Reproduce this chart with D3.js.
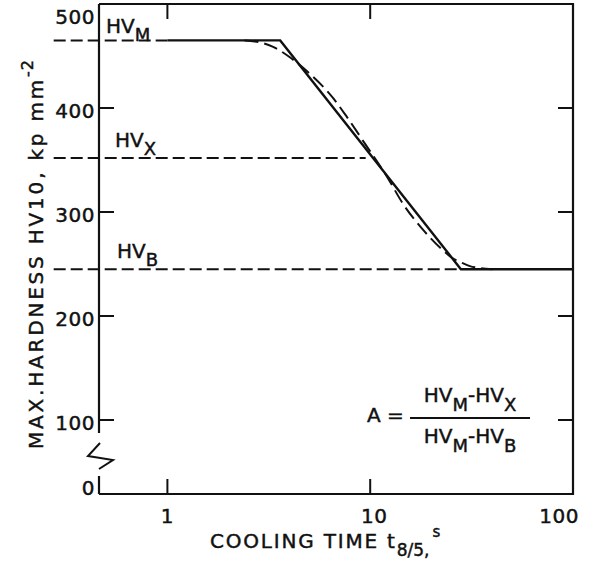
<!DOCTYPE html>
<html>
<head>
<meta charset="utf-8">
<script src="https://cdn.jsdelivr.net/npm/d3@7"></script>
<style>
    body { margin: 0; background: #fff; }
    svg text { font-family: "DejaVu Sans", sans-serif; fill: #111; stroke: #111; stroke-width: 0.45px; }
</style>
</head>
<body>
<div id="chart"></div>
<script>
// Hardness levels (HV10, kp/mm2) and where their dashed guide stops (t8/5, s)
const levelNames = ['M', 'X', 'B'];
const levelValues = [465, 352, 245];
const levelEnds = [1, 9.5, 28];

// Idealised (solid) hardness curve
const solidTimes = [1, 3.6, 28, 100];
const solidHardness = [465, 465, 245, 245];

// Measured (dashed) curve
const fitTimes = [2.4, 2.7, 3.0, 3.3, 3.6, 4.0, 4.9, 6.6, 7.7, 9.4, 12.1, 14.5, 18.2, 22.6, 25.3, 28.4, 31, 35, 40];
const fitHardness = [465, 464, 462, 459, 455, 449, 435, 409, 391, 366, 334, 308, 283, 264, 256, 251, 248, 246, 245];

const xTicks = [1, 10, 100];
const yTicks = [0, 100, 200, 300, 400, 500];

const width = 589, height = 566;
const svg = d3.select('#chart').append('svg')
    .attr('width', width)
    .attr('height', height);

// log time axis, broken hardness axis (0 squeezed under 100)
const x = d3.scaleLog().domain([0.46, 100]).range([99, 573]);
const y = d3.scaleLinear().domain([0, 100, 500]).range([494, 420, 4]);

const x0 = x.range()[0], x1 = x.range()[1];
const yTop = y(500), yBot = y(0);
const ink = '#111';

// frame: top, right and bottom sides
svg.append('path')
    .attr('d', `M${x0},${yTop}H${x1}V${yBot}H${x0}`)
    .attr('fill', 'none')
    .attr('stroke', ink)
    .attr('stroke-width', 2.2);

// left axis with break
const breakY = y(100) + 38;
svg.append('line')
    .attr('x1', x0).attr('x2', x0)
    .attr('y1', yTop).attr('y2', y(100) + 13)
    .attr('stroke', ink).attr('stroke-width', 2.2);
svg.append('line')
    .attr('x1', x0).attr('x2', x0)
    .attr('y1', yBot - 18).attr('y2', yBot)
    .attr('stroke', ink).attr('stroke-width', 2.2);
svg.append('path')
    .attr('d', `M${x0 + 1},${breakY - 15}L${x0 - 11},${breakY - 2}L${x0 + 14},${breakY + 2}L${x0},${breakY + 11}`)
    .attr('fill', 'none')
    .attr('stroke', ink).attr('stroke-width', 2);

// inward ticks on all four sides
const tickLen = 15;
const yInner = yTicks.filter(d => d > 0 && d < 500);
svg.append('g').selectAll('line')
    .data(yInner)
    .join('line')
    .attr('x1', x0).attr('x2', x0 + tickLen)
    .attr('y1', d => y(d)).attr('y2', d => y(d))
    .attr('stroke', ink).attr('stroke-width', 2);
svg.append('g').selectAll('line')
    .data(yInner)
    .join('line')
    .attr('x1', x1 - tickLen).attr('x2', x1)
    .attr('y1', d => y(d)).attr('y2', d => y(d))
    .attr('stroke', ink).attr('stroke-width', 2);
const xInner = xTicks.filter(d => d < 100);
svg.append('g').selectAll('line')
    .data(xInner)
    .join('line')
    .attr('x1', d => x(d)).attr('x2', d => x(d))
    .attr('y1', yBot - tickLen).attr('y2', yBot)
    .attr('stroke', ink).attr('stroke-width', 2);
svg.append('g').selectAll('line')
    .data(xInner)
    .join('line')
    .attr('x1', d => x(d)).attr('x2', d => x(d))
    .attr('y1', yTop).attr('y2', yTop + tickLen)
    .attr('stroke', ink).attr('stroke-width', 2);

// tick labels
svg.append('g').selectAll('text')
    .data(yTicks)
    .join('text')
    .attr('x', 95)
    .attr('y', d => d === 500 ? 17 : d === 0 ? y(d) - 6 : y(d) + 3)
    .attr('dy', '0.36em')
    .attr('text-anchor', 'end')
    .attr('font-size', 20)
    .attr('letter-spacing', 0.5)
    .text(d => d);
svg.append('g').selectAll('text')
    .data(xTicks)
    .join('text')
    .attr('x', d => d === 100 ? 579 : x(d) + (d === 10 ? 4 : 0))
    .attr('y', 523)
    .attr('text-anchor', d => d === 100 ? 'end' : 'middle')
    .attr('font-size', 20)
    .attr('letter-spacing', 0.5)
    .text(d => d);

// dashed level guides
const guide = d3.line().x(d => x(d[0])).y(d => y(d[1]));
levelValues.forEach((v, i) => {
    svg.append('path')
        .attr('d', guide([[0.275, v], [levelEnds[i], v]]))
        .attr('fill', 'none')
        .attr('stroke', ink)
        .attr('stroke-width', 2)
        .attr('stroke-dasharray', '12,5');
});

// solid idealised curve
const solid = d3.line().x((d, i) => x(solidTimes[i])).y((d, i) => y(solidHardness[i]));
svg.append('path')
    .attr('d', solid(solidTimes))
    .attr('fill', 'none')
    .attr('stroke', ink)
    .attr('stroke-width', 2.4);

// dashed measured curve
const fit = d3.line()
    .x((d, i) => x(fitTimes[i]))
    .y((d, i) => y(fitHardness[i]))
    .curve(d3.curveMonotoneX);
svg.append('path')
    .attr('d', fit(fitTimes))
    .attr('fill', 'none')
    .attr('stroke', ink)
    .attr('stroke-width', 2)
    .attr('stroke-dasharray', '14,6');

// HV labels above each guide
const labelX = [x0 + 7, x0 + 16, x0 + 18];
const labelUp = [7, 11, 11];
levelNames.forEach((n, i) => {
    const t = svg.append('text')
        .attr('x', labelX[i])
        .attr('y', y(levelValues[i]) - labelUp[i])
        .attr('font-size', 20);
    t.append('tspan').text('HV');
    t.append('tspan').attr('dy', 8).attr('font-size', 18).text(n);
});

// formula for A
svg.append('text')
    .attr('x', 367).attr('y', 422)
    .attr('font-size', 20)
    .text('A =');
function hvDiff(yy, a, b) {
    const t = svg.append('text')
        .attr('x', 470).attr('y', yy)
        .attr('text-anchor', 'middle')
        .attr('font-size', 20);
    t.append('tspan').text('HV');
    t.append('tspan').attr('dy', 9).attr('font-size', 18).text(a);
    t.append('tspan').attr('dy', -9).text('-HV');
    t.append('tspan').attr('dy', 9).attr('font-size', 18).text(b);
}
hvDiff(402, 'M', 'X');
hvDiff(443, 'M', 'B');
svg.append('line')
    .attr('x1', 410).attr('x2', 530)
    .attr('y1', 418).attr('y2', 418)
    .attr('stroke', ink).attr('stroke-width', 1.8);

// axis titles
const xt = svg.append('text')
    .attr('x', 210).attr('y', 548)
    .attr('font-size', 20)
    .attr('letter-spacing', 1.8);
xt.append('tspan').text('COOLING TIME t');
xt.append('tspan').attr('dy', 8).attr('font-size', 17).attr('letter-spacing', 0).text('8/5,');
xt.append('tspan').attr('dy', -19).attr('dx', 3).attr('font-size', 15).text('s');

const yt = svg.append('text')
    .attr('transform', 'translate(43,254) rotate(-90)')
    .attr('text-anchor', 'middle')
    .attr('font-size', 20)
    .attr('letter-spacing', 2.8);
yt.append('tspan').text('MAX.HARDNESS HV10, kp mm');
yt.append('tspan').attr('dy', -10).attr('font-size', 16).attr('letter-spacing', 1).text('-2');
</script>
</body>
</html>
